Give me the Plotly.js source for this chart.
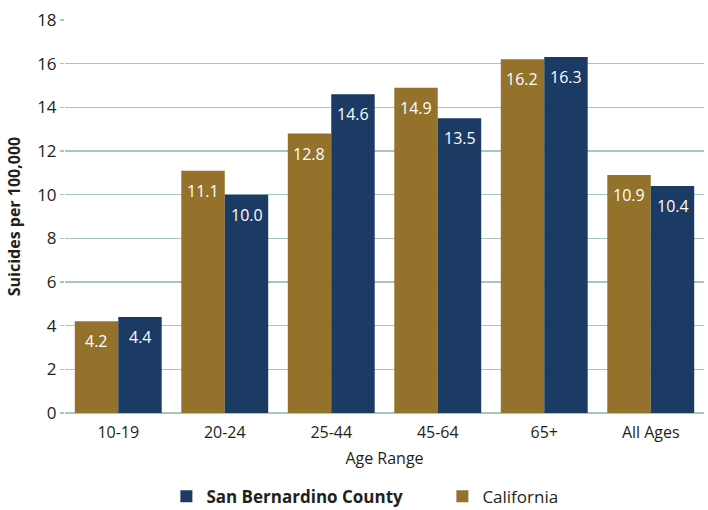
<!DOCTYPE html>
<html><head><meta charset="utf-8">
<script src="https://cdn.plot.ly/plotly-3.0.1.min.js"></script>
<style>html,body{margin:0;padding:0;background:#fff}#chart{width:708px;height:510px}</style>
</head><body><div id="chart"></div>
<script>
const categories = ["10-19", "20-24", "25-44", "45-64", "65+", "All Ages"];
const california = [4.2, 11.1, 12.8, 14.9, 16.2, 10.9];
const sanBernardino = [4.4, 10.0, 14.6, 13.5, 16.3, 10.4];
const yTicks = [0, 2, 4, 6, 8, 10, 12, 14, 16, 18];

const gold = "#94722c";
const navy = "#1b3a64";
const grid = "#a9c6b8";
const font = "Open Sans, Noto Sans, sans-serif";

const traces = [
  {type: "bar", name: "California", x: categories, y: california,
   marker: {color: gold}, legendrank: 2, hoverinfo: "x+y"},
  {type: "bar", name: "<b>San Bernardino County</b>", x: categories, y: sanBernardino,
   marker: {color: navy}, legendrank: 1, hoverinfo: "x+y"}
];

const annotations = [];
function addLabels(vals, shift) {
  vals.forEach((v, i) => annotations.push({
    x: categories[i], y: v, xref: "x", yref: "y", text: v.toFixed(1),
    showarrow: false, xshift: shift, yshift: -20, yanchor: "middle",
    font: {family: font, size: 16, color: "#ffffff"}
  }));
}
addLabels(california, -22);
addLabels(sanBernardino, 22);

const layout = {
  width: 708, height: 510,
  margin: {l: 65, r: 4, t: 20, b: 97},
  paper_bgcolor: "#fff", plot_bgcolor: "#fff",
  font: {family: font, color: "#231f20"},
  barmode: "group", bargap: 0.184, bargroupgap: 0,
  showlegend: true,
  legend: {orientation: "h", xref: "container", x: 0.235, xanchor: "left",
           yref: "container", y: 0.026, yanchor: "middle",
           font: {size: 17, family: font}, entrywidth: 231, entrywidthmode: "pixels",
           traceorder: "normal"},
  xaxis: {type: "category", tickfont: {size: 16}, showgrid: false, showline: false,
          zeroline: false, ticks: "", ticklabelstandoff: 8,
          title: {text: "Age Range", font: {size: 16}, standoff: 10}},
  yaxis: {range: [0, 18], tickvals: yTicks, tickfont: {size: 17},
          showgrid: true, gridcolor: grid, gridwidth: 1.5,
          zeroline: true, zerolinecolor: grid, zerolinewidth: 2,
          ticks: "outside", ticklen: 4, tickcolor: grid, tickwidth: 1.5,
          title: {text: "<b>Suicides per 100,000</b>", font: {size: 16}, standoff: 12}},
  annotations: annotations
};

Plotly.newPlot("chart", traces, layout, {displayModeBar: false, staticPlot: true});
</script></body></html>
